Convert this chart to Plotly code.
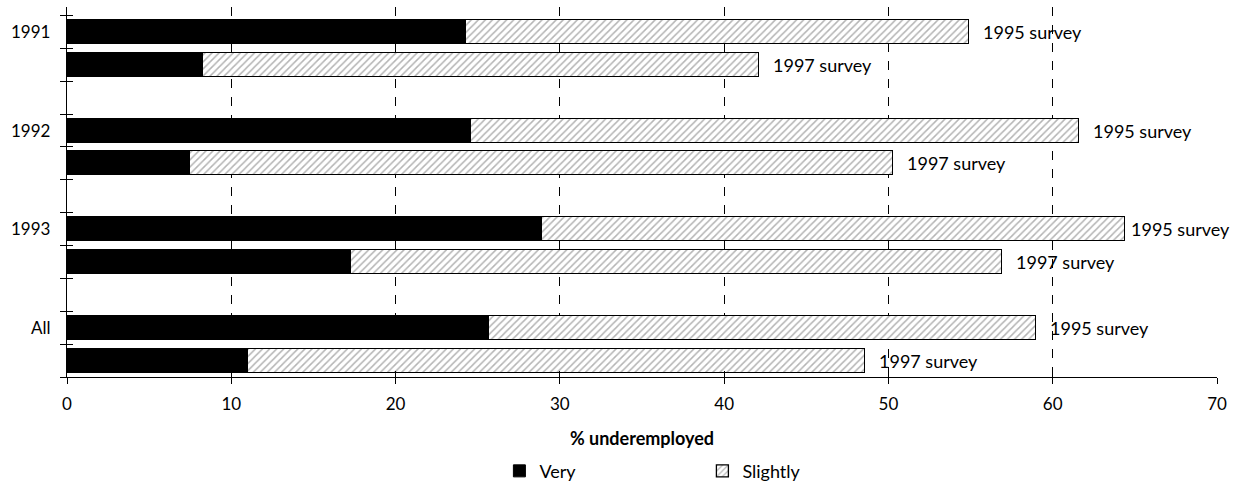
import plotly.graph_objects as go

groups = ["1991", "1992", "1993", "All"]
surveys = ["1995 survey", "1997 survey"]
very_1995 = [24.3, 24.6, 28.9, 25.7]
slightly_1995 = [30.6, 37.0, 35.5, 33.3]
very_1997 = [8.3, 7.5, 17.3, 11.0]
slightly_1997 = [33.8, 42.8, 39.6, 37.6]
x_ticks = [0, 10, 20, 30, 40, 50, 60, 70]

FONT = "Lato"

# build rows: each group -> 1995 bar, 1997 bar, blank slot
pos, very, slightly, labels = [], [], [], []
for i, g in enumerate(groups):
    pos += [3 * i, 3 * i + 1]
    very += [very_1995[i], very_1997[i]]
    slightly += [slightly_1995[i], slightly_1997[i]]
    labels += surveys
totals = [v + s for v, s in zip(very, slightly)]
label_pos = [3 * i for i in range(len(groups))]
n_slots = 3 * len(groups) - 1
bounds = [k - 0.5 for k in range(n_slots + 1)]
y_range = [n_slots - 0.5, -0.76]
X_MAX = 70

fig = go.Figure()
fig.add_trace(go.Bar(
    y=pos, x=very, orientation="h", name="Very", width=0.73,
    marker=dict(color="black", line=dict(color="black", width=1)),
))
fig.add_trace(go.Bar(
    y=pos, x=slightly, orientation="h", name="Slightly", width=0.73,
    marker=dict(color="white", line=dict(color="black", width=1.3),
                pattern=dict(shape="/", fgcolor="#6a6a6a", bgcolor="white",
                             size=5, solidity=0.3)),
))
# invisible anchor trace for the overlay axes (inside tick marks)
fig.add_trace(go.Scatter(
    x=totals, y=pos, mode="markers", marker=dict(opacity=0),
    xaxis="x2", yaxis="y2", showlegend=False, hoverinfo="skip",
))

for xv, yv, t in zip(totals, pos, labels):
    shift = 12 if xv < X_MAX - 7 else 4   # keep the label inside the page
    fig.add_annotation(x=xv, y=yv, xref="x", yref="y", text=t, showarrow=False,
                       xanchor="left", yanchor="middle", xshift=shift,
                       font=dict(family=FONT, size=18, color="black"))

fig.update_layout(
    width=1239, height=497,
    margin=dict(l=67, r=22, t=7, b=105),
    paper_bgcolor="white", plot_bgcolor="white",
    barmode="stack", bargap=0,
    font=dict(family=FONT, size=17, color="black"),
    showlegend=True,
    legend=dict(orientation="h", x=0.376, xanchor="left", y=-0.2545, yanchor="middle",
                entrywidth=158, font=dict(size=18), traceorder="normal",
                itemwidth=30),
    xaxis=dict(range=[0, X_MAX], tickvals=x_ticks, showgrid=True, gridcolor="black",
               griddash="dash", gridwidth=1, zeroline=False, showline=True,
               linecolor="black", linewidth=1.3, ticks="outside", ticklen=6,
               tickcolor="black", automargin=False, ticklabelstandoff=5,
               title=dict(text="<b>% underemployed</b>", standoff=19,
                          font=dict(size=18))),
    yaxis=dict(range=y_range, tickvals=label_pos, ticktext=groups, ticks="",
               ticklabelstandoff=12, showgrid=False, zeroline=False,
               showline=True, linecolor="black", linewidth=1.3, automargin=False,
               minor=dict(tickvals=bounds, ticks="outside", ticklen=6,
                          tickcolor="black", showgrid=False)),
    xaxis2=dict(range=[0, X_MAX], overlaying="x", side="bottom", tickvals=x_ticks,
                ticks="inside", ticklen=6, tickcolor="black", showticklabels=False,
                showgrid=False, zeroline=False, showline=False, automargin=False),
    yaxis2=dict(range=y_range, overlaying="y", side="left", tickvals=bounds,
                ticks="inside", ticklen=6, tickcolor="black", showticklabels=False,
                showgrid=False, zeroline=False, showline=False, automargin=False),
)

fig.write_html("out.html", config={"displayModeBar": False},
               post_script="document.body.style.margin='0';"
                           "document.documentElement.style.overflow='hidden';")
